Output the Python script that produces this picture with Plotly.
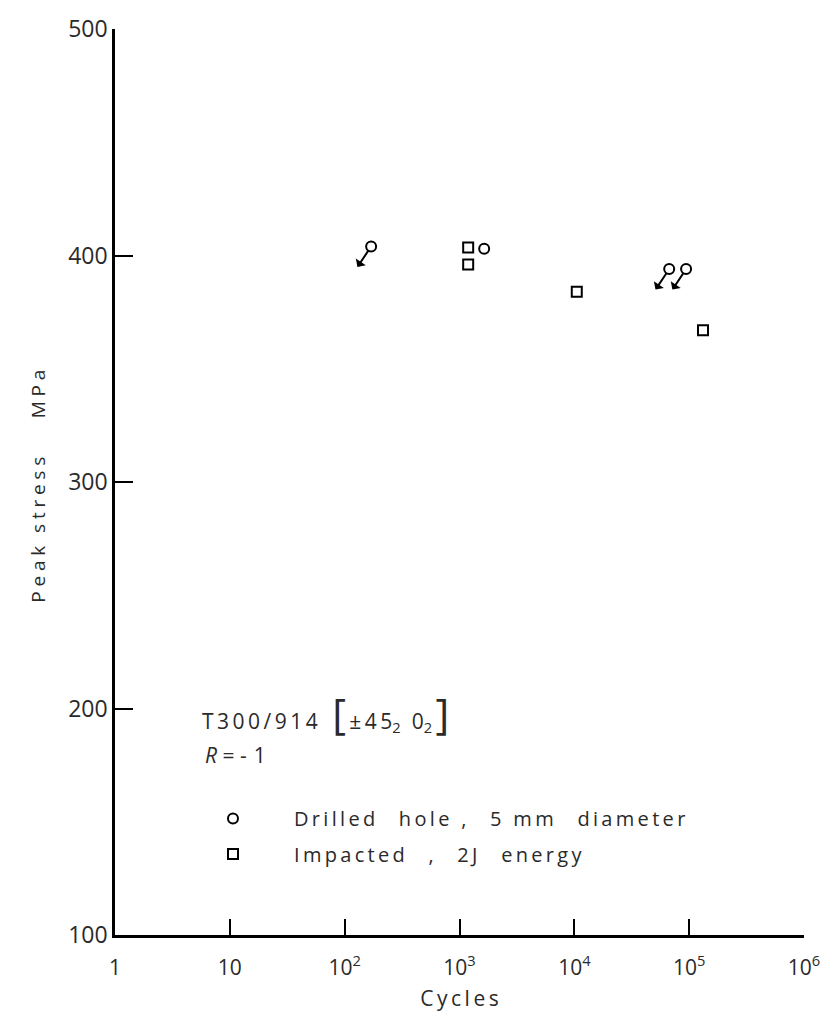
import math
import plotly.graph_objects as go

# Fatigue data: cycles to failure vs peak stress (MPa)
drilled_cycles = [170, 1640, 67000, 94000]
drilled_stress = [404, 403, 394, 394]
drilled_arrow = [True, False, True, True]   # specimens marked with a downward arrow

impact_cycles = [1190, 1190, 10500, 132000]
impact_stress = [403.5, 396, 384, 367]

x_tick_vals = [1, 10, 100, 1000, 10000, 100000, 1000000]
x_tick_text = ["1", "10", "10<sup>2</sup>", "10<sup>3</sup>", "10<sup>4</sup>", "10<sup>5</sup>", "10<sup>6</sup>"]
y_tick_vals = [100, 200, 300, 400, 500]

FONT = "Open Sans"
INK = "#2a2a2a"


def spaced(text, sep="\u2009", word="\u00a0\u2009"):
    """Open up letter spacing (stencil-style lettering)."""
    out = []
    for i, ch in enumerate(text):
        out.append(word if ch == " " else ch)
        if i < len(text) - 1 and ch != " " and text[i + 1] != " ":
            out.append(sep)
        elif ch == " ":
            out.append(sep)
    return "".join(out)


fig = go.Figure()

fig.add_trace(go.Scatter(
    x=drilled_cycles, y=drilled_stress, mode="markers",
    name=spaced("Drilled  hole ,  5 mm  diameter"), legend="legend",
    marker=dict(symbol="circle-open", size=10, color="black", line=dict(width=2)),
))
fig.add_trace(go.Scatter(
    x=impact_cycles, y=impact_stress, mode="markers",
    name=spaced("Impacted  ,  2J  energy"), legend="legend2",
    marker=dict(symbol="square-open", size=10, color="black", line=dict(width=2)),
))

# downward arrows hanging off the flagged specimens (head at the free end);
# annotation x on a log axis is given in log10 units
for cx, cy, flag in zip(drilled_cycles, drilled_stress, drilled_arrow):
    if flag:
        fig.add_annotation(
            x=math.log10(cx), y=cy, xref="x", yref="y", text="",
            font=dict(size=1), borderpad=0,
            showarrow=True, arrowside="start", arrowhead=2, arrowsize=1.3,
            arrowwidth=2, arrowcolor="black",
            ax=-14, ay=21, standoff=5,
        )

BR = "<span style='font-size:42px'>{}</span>"
fig.add_annotation(
    x=0.1234, y=0.2454, xref="paper", yref="paper", xanchor="left", yanchor="middle",
    text=spaced("T300/914") + "\u00a0\u00a0\u2009" + BR.format("[")
    + "\u2009" + spaced("\u00b145") + "<sub>2</sub>\u00a0\u00a0" + "0<sub>2</sub>\u2009" + BR.format("]"),
    showarrow=False, font=dict(family=FONT, size=21, color=INK),
)
fig.add_annotation(
    x=0.1277, y=0.1985, xref="paper", yref="paper", xanchor="left", yanchor="middle",
    text="<i>R</i>\u00a0=\u00a0-\u2009\u20091",
    showarrow=False, font=dict(family=FONT, size=21, color=INK),
)

legend_style = dict(
    xanchor="left", yanchor="middle", bgcolor="rgba(0,0,0,0)",
    font=dict(family=FONT, size=20, color=INK), itemwidth=112,
)

fig.update_layout(
    width=833, height=1021,
    margin=dict(l=115, r=29, t=18, b=86),
    paper_bgcolor="white", plot_bgcolor="white",
    font=dict(family=FONT, size=20, color=INK),
    showlegend=True,
    legend=dict(x=0.0827, y=0.1287, **legend_style),
    legend2=dict(x=0.0827, y=0.0894, **legend_style),
    xaxis=dict(
        type="log", range=[0, 6],
        tickvals=x_tick_vals, ticktext=x_tick_text,
        ticks="inside", ticklen=16, tickwidth=2, tickcolor="black",
        showline=True, linecolor="black", linewidth=2.5,
        showgrid=False, zeroline=False, ticklabelstandoff=12,
        title=dict(text=spaced("Cycles"), font=dict(family=FONT, size=21, color=INK), standoff=12),
        tickfont=dict(family=FONT, size=21, color=INK),
    ),
    yaxis=dict(
        range=[100, 500],
        tickvals=y_tick_vals,
        ticks="inside", ticklen=18, tickwidth=2, tickcolor="black",
        showline=True, linecolor="black", linewidth=2.5,
        showgrid=False, zeroline=False,
        tickfont=dict(family=FONT, size=23, color=INK),
    ),
)

fig.add_annotation(
    x=-0.112, y=0.365, xref="paper", yref="paper", xanchor="center", yanchor="bottom",
    text=spaced("Peak stress   MPa", sep="\u2005"), textangle=-90, showarrow=False,
    font=dict(family=FONT, size=19, color=INK),
)

fig.write_html("out.html")
